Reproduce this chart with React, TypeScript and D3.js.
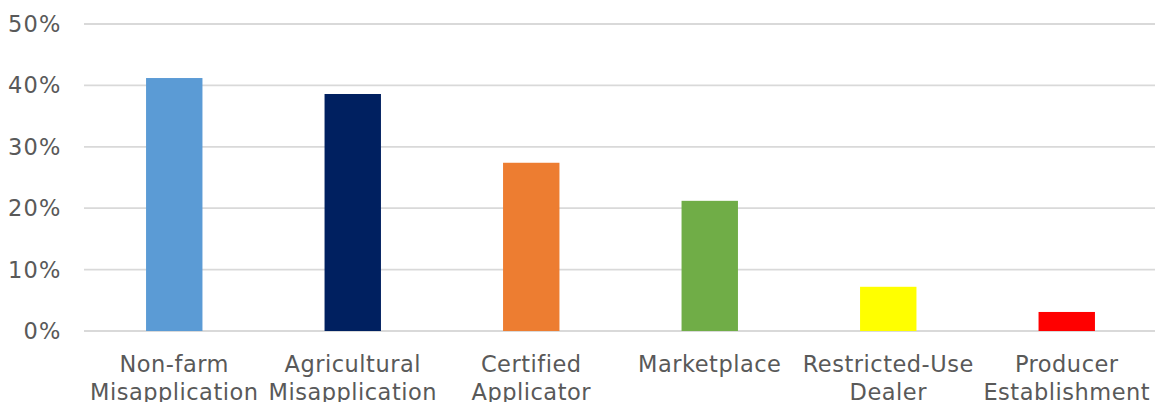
import React from "react";
import * as d3 from "d3";

const categories: string[][] = [
  ["Non-farm", "Misapplication"],
  ["Agricultural", "Misapplication"],
  ["Certified", "Applicator"],
  ["Marketplace"],
  ["Restricted-Use", "Dealer"],
  ["Producer", "Establishment"],
];
const values: number[] = [0.412, 0.386, 0.274, 0.212, 0.072, 0.031];
const colors: string[] = ["#5B9BD5", "#002060", "#ED7D31", "#70AD47", "#FFFF00", "#FF0000"];
const yTicks: number[] = [0, 0.1, 0.2, 0.3, 0.4, 0.5];

const W = 1155;
const H = 402;
const FONT = "'DejaVu Sans', Verdana, sans-serif";

export default function App() {
  const keys = categories.map((c) => c.join(" "));
  const x = d3.scaleBand<string>().domain(keys).range([85, 1156]).paddingInner(0.684).paddingOuter(0.342);
  const y = d3.scaleLinear().domain([0, 0.5]).range([331, 24]);
  const fmt = d3.format(".0%");

  return (
    <svg
      width={W}
      height={H}
      style={{ position: "fixed", left: 0, top: 0, background: "#fff" }}
      fontFamily={FONT}
    >
      {yTicks.map((t) => (
        <g key={t}>
          <line x1={84} x2={1155} y1={y(t)} y2={y(t)} stroke="#D9D9D9" strokeWidth={1.8} />
          <text
            x={61.5}
            y={y(t)}
            textAnchor="end"
            dominantBaseline="central"
            fontSize={22.5}
            letterSpacing={1.2}
            fill="#595959"
          >
            {fmt(t)}
          </text>
        </g>
      ))}
      {values.map((v, i) => (
        <rect
          key={i}
          x={x(keys[i])!}
          width={x.bandwidth()}
          y={y(v)}
          height={y(0) - y(v)}
          fill={colors[i]}
        />
      ))}
      {categories.map((lines, i) => (
        <text
          key={i}
          x={x(keys[i])! + x.bandwidth() / 2}
          textAnchor="middle"
          fontSize={22.5}
          letterSpacing={0.5}
          fill="#595959"
        >
          {lines.map((l, j) => (
            <tspan key={j} x={x(keys[i])! + x.bandwidth() / 2} y={372 + j * 28}>
              {l}
            </tspan>
          ))}
        </text>
      ))}
    </svg>
  );
}
